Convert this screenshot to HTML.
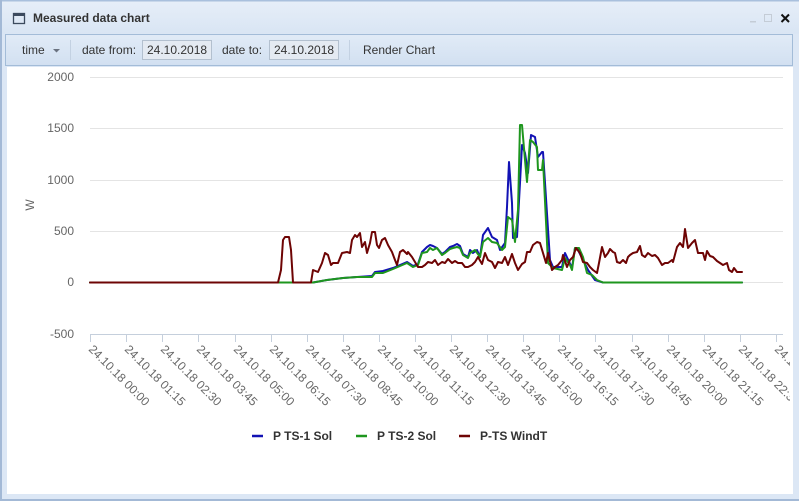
<!DOCTYPE html>
<html><head><meta charset="utf-8"><style>
html,body{margin:0;padding:0;background:#fff;}
svg{display:block;}
text{font-family:"Liberation Sans",Arial,sans-serif;}
</style></head><body>
<svg width="799" height="501" viewBox="0 0 799 501" xmlns="http://www.w3.org/2000/svg">
<defs>
<linearGradient id="tb" x1="0" y1="0" x2="0" y2="1"><stop offset="0" stop-color="#e6eef8"/><stop offset="1" stop-color="#d9e5f4"/></linearGradient>
<linearGradient id="tl" x1="0" y1="0" x2="0" y2="1"><stop offset="0" stop-color="#e1ebf7"/><stop offset="1" stop-color="#d2e0f1"/></linearGradient>
</defs>
<!-- frame -->
<rect x="0" y="0" width="799" height="501" fill="#dce7f5"/>
<rect x="0" y="0" width="799" height="1.5" fill="#a9c0dd"/>
<rect x="0" y="0" width="2" height="501" fill="#a3b9d6"/>
<rect x="0" y="499" width="799" height="2" fill="#a3b9d6"/>
<rect x="2" y="1.5" width="797" height="32" fill="url(#tb)"/>
<!-- title -->
<rect x="13.5" y="13.5" width="11" height="10" fill="none" stroke="#3c4a5e" stroke-width="1.3"/>
<rect x="13.5" y="13.5" width="11" height="2.5" fill="#3c4a5e"/>
<text x="33" y="22" font-size="12" font-weight="bold" fill="#333">Measured data chart</text>
<rect x="750" y="21" width="6" height="1.5" fill="#c4ccd6"/>
<rect x="764.5" y="14.5" width="7" height="7" fill="none" stroke="#c4ccd6" stroke-width="1"/>
<path d="M781.5 14.5 L789 22 M789 14.5 L781.5 22" stroke="#111" stroke-width="2"/>
<!-- toolbar -->
<rect x="5.5" y="34.5" width="787" height="31" fill="url(#tl)" stroke="#a3bcd8" stroke-width="1"/>
<text x="22" y="54" font-size="12" fill="#333">time</text>
<path d="M53 49 L60 49 L56.5 52.5 Z" fill="#6a7280"/>
<rect x="70" y="40" width="1" height="20" fill="#c3d1e2"/>
<text x="82" y="54" font-size="12" fill="#333">date from:</text>
<rect x="142.5" y="40.5" width="69" height="19" fill="#e4eaf2" stroke="#b3c0cf"/>
<text x="147" y="54" font-size="12" fill="#333">24.10.2018</text>
<text x="222" y="54" font-size="12" fill="#333">date to:</text>
<rect x="269.5" y="40.5" width="69" height="19" fill="#e4eaf2" stroke="#b3c0cf"/>
<text x="274" y="54" font-size="12" fill="#333">24.10.2018</text>
<rect x="349" y="40" width="1" height="20" fill="#c3d1e2"/>
<text x="363" y="54" font-size="12" fill="#333">Render Chart</text>
<!-- content -->
<rect x="7" y="67" width="786" height="427" fill="#fff"/>
<!-- grid -->
<g stroke="#e4e4e4" stroke-width="1">
<line x1="90" y1="77.5" x2="783" y2="77.5"/>
<line x1="90" y1="128.5" x2="783" y2="128.5"/>
<line x1="90" y1="180.5" x2="783" y2="180.5"/>
<line x1="90" y1="231.5" x2="783" y2="231.5"/>
<line x1="90" y1="282.5" x2="783" y2="282.5"/>
</g>
<line x1="90" y1="334.5" x2="783" y2="334.5" stroke="#c5cfdc" stroke-width="1"/>
<g stroke="#c5cfdc" stroke-width="1">
<line x1="90.5" y1="334" x2="90.5" y2="342"/><line x1="126.5" y1="334" x2="126.5" y2="342"/><line x1="162.5" y1="334" x2="162.5" y2="342"/><line x1="198.5" y1="334" x2="198.5" y2="342"/><line x1="235.5" y1="334" x2="235.5" y2="342"/><line x1="271.5" y1="334" x2="271.5" y2="342"/><line x1="307.5" y1="334" x2="307.5" y2="342"/><line x1="343.5" y1="334" x2="343.5" y2="342"/><line x1="379.5" y1="334" x2="379.5" y2="342"/><line x1="415.5" y1="334" x2="415.5" y2="342"/><line x1="451.5" y1="334" x2="451.5" y2="342"/><line x1="487.5" y1="334" x2="487.5" y2="342"/><line x1="523.5" y1="334" x2="523.5" y2="342"/><line x1="559.5" y1="334" x2="559.5" y2="342"/><line x1="595.5" y1="334" x2="595.5" y2="342"/><line x1="632.5" y1="334" x2="632.5" y2="342"/><line x1="668.5" y1="334" x2="668.5" y2="342"/><line x1="704.5" y1="334" x2="704.5" y2="342"/><line x1="740.5" y1="334" x2="740.5" y2="342"/><line x1="776.5" y1="334" x2="776.5" y2="342"/>
</g>
<!-- y labels -->
<g font-size="12" fill="#666" text-anchor="end">
<text x="74" y="81">2000</text>
<text x="74" y="132">1500</text>
<text x="74" y="184">1000</text>
<text x="74" y="235">500</text>
<text x="74" y="286">0</text>
<text x="74" y="338">-500</text>
</g>
<text x="0" y="0" font-size="12" fill="#666" text-anchor="middle" transform="translate(34,205) rotate(-90)">W</text>
<!-- x labels -->
<svg x="0" y="0" width="790" height="501" overflow="hidden">
<g font-size="12" fill="#666">
<text transform="translate(88,350) rotate(45)">24.10.18 00:00</text>
<text transform="translate(124,350) rotate(45)">24.10.18 01:15</text>
<text transform="translate(160,350) rotate(45)">24.10.18 02:30</text>
<text transform="translate(196,350) rotate(45)">24.10.18 03:45</text>
<text transform="translate(233,350) rotate(45)">24.10.18 05:00</text>
<text transform="translate(269,350) rotate(45)">24.10.18 06:15</text>
<text transform="translate(305,350) rotate(45)">24.10.18 07:30</text>
<text transform="translate(341,350) rotate(45)">24.10.18 08:45</text>
<text transform="translate(377,350) rotate(45)">24.10.18 10:00</text>
<text transform="translate(413,350) rotate(45)">24.10.18 11:15</text>
<text transform="translate(449,350) rotate(45)">24.10.18 12:30</text>
<text transform="translate(485,350) rotate(45)">24.10.18 13:45</text>
<text transform="translate(521,350) rotate(45)">24.10.18 15:00</text>
<text transform="translate(557,350) rotate(45)">24.10.18 16:15</text>
<text transform="translate(593,350) rotate(45)">24.10.18 17:30</text>
<text transform="translate(630,350) rotate(45)">24.10.18 18:45</text>
<text transform="translate(666,350) rotate(45)">24.10.18 20:00</text>
<text transform="translate(702,350) rotate(45)">24.10.18 21:15</text>
<text transform="translate(738,350) rotate(45)">24.10.18 22:30</text>
<text transform="translate(774,350) rotate(45)">24.10.18 23:45</text>
</g>
</svg>
<!-- series -->
<g fill="none" stroke-width="2" stroke-linejoin="round" stroke-linecap="round">
<polyline stroke="#1212b4" points="90,282.5 313,282.5 327,280 343,278 357,277 372,276 375,272 383,271 393,268 400,265 407,262 413,266 418,264 422,252 427,247 430,245 433,246 437,248 442,254 445,252 450,247 453,246 457,244 460,246 463,254 468,257 470,250 473,253 477,250 480,257 483,235 488,228 492,237 497,240 500,250 505,243 507,207 509,162 512,203 513,238 517,237 520,183 522,145 525,153 528,173 531,135 535,137 538,157 542,152 543,152 550,260 553,267 562,267 565,253 572,268 575,248 578,250 583,260 588,270 595,280 603,282.5 742,282.5"/>
<polyline stroke="#1e961e" points="90,282.5 313,282.5 327,280 343,278 357,277 372,277 375,273 383,273 393,269 400,266 407,263 413,267 418,265 422,253 427,252 430,248 433,250 437,248 442,255 445,253 450,249 453,248 457,247 460,248 463,255 468,258 470,253 475,250 480,257 483,242 488,238 492,242 497,243 502,250 505,247 508,217 512,220 515,242 518,210 520,125 522,125 525,160 527,182 530,140 533,142 537,147 538,170 542,170 543,160 548,263 553,268 562,270 565,258 570,265 572,270 575,248 579,248 583,257 587,273 592,275 597,280 603,282.5 742,282.5"/>
<polyline stroke="#6e0404" points="90,282.5 278,282.5 281,270 283,240 285,237 289,237 291,250 293,282.5 311,282.5 313,270 318,272 322,263 325,253 328,255 331,265 333,263 338,263 342,253 347,252 350,253 352,240 355,235 357,237 360,233 362,247 365,242 367,253 370,243 372,232 375,232 377,245 379,248 382,240 385,238 388,245 392,252 395,260 397,265 400,252 403,250 407,254 408,252 412,257 415,262 418,267 422,267 425,265 428,262 432,263 435,260 438,265 442,262 445,263 448,259 452,263 455,261 458,263 462,263 465,267 468,267 472,265 475,262 478,257 482,264 485,253 488,260 492,262 495,268 498,262 502,263 505,257 508,265 512,254 515,263 518,270 522,264 525,262 527,252 530,252 533,245 537,242 540,243 543,253 546,263 548,253 552,270 555,267 558,265 562,260 563,255 567,267 570,260 573,257 576,248 580,253 583,262 587,263 590,267 593,270 597,273 599,263 602,247 605,257 608,253 610,249 613,252 615,253 617,262 620,263 623,260 626,263 628,257 630,255 633,253 637,252 640,246 642,255 645,257 648,253 652,256 655,255 658,258 662,265 665,263 668,263 672,260 673,262 677,247 680,243 683,247 685,229 688,248 692,243 695,240 698,253 703,253 705,260 707,251 710,256 713,257 717,261 720,263 723,265 727,263 729,270 732,272 734,268 737,272 742,272"/>
</g>
<!-- legend -->
<g stroke-width="2.5">
<line x1="252" y1="436" x2="263" y2="436" stroke="#1212b4"/>
<line x1="356" y1="436" x2="367" y2="436" stroke="#1e961e"/>
<line x1="459" y1="436" x2="470" y2="436" stroke="#6e0404"/>
</g>
<g font-size="12" font-weight="bold" fill="#333">
<text x="273" y="440">P TS-1 Sol</text>
<text x="377" y="440">P TS-2 Sol</text>
<text x="480" y="440">P-TS WindT</text>
</g>
</svg>
</body></html>
